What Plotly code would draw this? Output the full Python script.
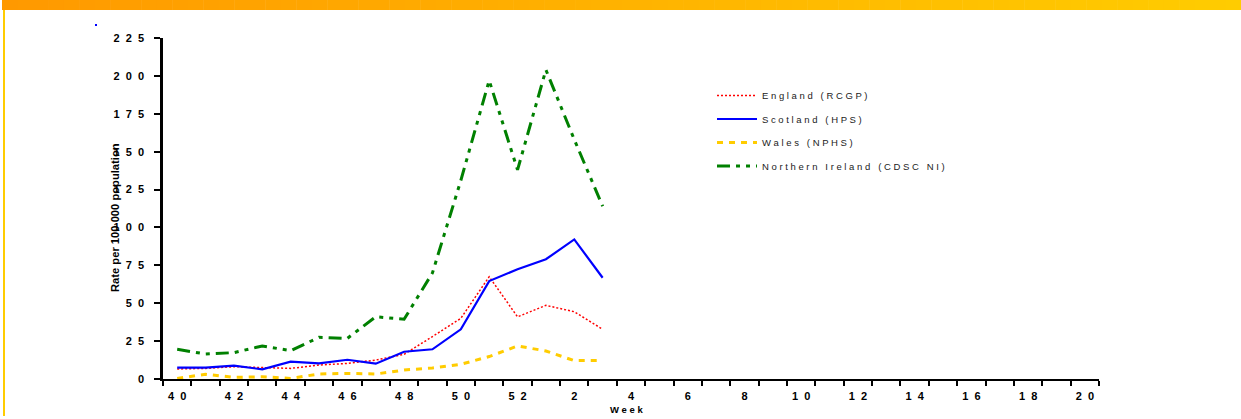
import plotly.graph_objects as go

# ---- data ----
all_weeks = [40, 41, 42, 43, 44, 45, 46, 47, 48, 49, 50, 51, 52,
             1, 2, 3, 4, 5, 6, 7, 8, 9, 10, 11, 12, 13, 14, 15, 16, 17, 18, 19, 20]
data_weeks = [40, 41, 42, 43, 44, 45, 46, 47, 48, 49, 50, 51, 52, 1, 2, 3]

england = [6.6, 7.0, 8.1, 7.5, 7.0, 9.2, 10.3, 12.5, 16.3, 28.0, 40.0, 67.5, 41.0, 48.6, 44.4, 32.8]
scotland = [7.5, 7.5, 8.8, 6.4, 11.4, 10.3, 12.7, 10.1, 18.0, 19.6, 32.8, 64.6, 72.4, 79.0, 92.1, 66.8]
wales = [0.4, 3.1, 1.1, 1.5, 0.4, 3.3, 3.7, 3.3, 5.9, 7.3, 9.7, 14.8, 21.8, 18.5, 12.1, 12.3]
n_ireland = [19.6, 16.5, 17.4, 21.8, 18.7, 27.5, 26.8, 41.1, 39.4, 70.0, 131.0, 197.0, 138.0, 204.0, 158.0, 114.0]

series_names = ["England (RCGP)", "Scotland (HPS)", "Wales (NPHS)", "Northern Ireland (CDSC NI)"]
y_ticks = [0, 25, 50, 75, 100, 125, 150, 175, 200, 225]
x_label_weeks = [40, 42, 44, 46, 48, 50, 52, 2, 4, 6, 8, 10, 12, 14, 16, 18, 20]

W, H = 1241, 419
L, R, T, B = 163, 142, 38, 40
PW, PH = W - L - R, H - T - B


def spaced(s, sep=" "):
    return sep.join(list(s))


def px_x(px):
    return (px - L) / PW


def px_y(py):
    return (H - B - py) / PH


FONT = "Liberation Sans, Arial, sans-serif"
NB = "\u00a0"

x_idx = [all_weeks.index(w) for w in data_weeks]

styles = [
    dict(color="#FF0000", width=1.5, dash="2px,2px"),
    dict(color="#0000FF", width=2.2, dash="solid"),
    dict(color="#FFCC00", width=3, dash="6px,6px"),
    dict(color="#008000", width=3, dash="13px,6px,4px,6px,4px,6px"),
]

fig = go.Figure()
for name, vals, st, grp in zip(series_names, [england, scotland, wales, n_ireland], styles, "abcd"):
    fig.add_trace(go.Scatter(
        x=x_idx, y=vals, mode="lines", name=spaced(name),
        line=st, legendgroup=grp,
    ))

# decorative frame: gradient bar on top, yellow rule on left
shapes = []
n_seg = 80
x0p, x1p = 2, W
c0 = (0xFF, 0x99, 0x00)
c1 = (0xFF, 0xCC, 0x00)
for i in range(n_seg):
    a = x0p + (x1p - x0p) * i / n_seg
    b = x0p + (x1p - x0p) * (i + 1) / n_seg + 0.5
    t = i / (n_seg - 1)
    col = "rgb(%d,%d,%d)" % tuple(round(c0[k] + (c1[k] - c0[k]) * t) for k in range(3))
    shapes.append(dict(type="rect", xref="paper", yref="paper",
                       x0=px_x(a), x1=px_x(b), y0=px_y(10), y1=px_y(0),
                       fillcolor=col, line=dict(width=0), layer="above"))
shapes.append(dict(type="line", xref="paper", yref="paper",
                   x0=px_x(4), x1=px_x(4), y0=px_y(10), y1=px_y(416),
                   line=dict(color="#FFCC00", width=2)))
shapes.append(dict(type="rect", xref="paper", yref="paper",
                   x0=px_x(95), x1=px_x(97), y0=px_y(26), y1=px_y(24),
                   fillcolor="#0000FF", line=dict(width=0)))

fig.update_layout(
    width=W, height=H,
    margin=dict(l=L, r=R, t=T, b=B, autoexpand=False),
    paper_bgcolor="white", plot_bgcolor="white",
    font=dict(family=FONT, color="black"),
    shapes=shapes,
    showlegend=True,
    legend=dict(
        x=px_x(712), y=px_y(81), xanchor="left", yanchor="top",
        bgcolor="rgba(0,0,0,0)", borderwidth=0,
        font=dict(family=FONT, size=9.5, color="#222222"),
        traceorder="grouped", tracegroupgap=4.5,
        itemwidth=40,
    ),
    xaxis=dict(
        range=[-0.5, len(all_weeks) - 0.5],
        showline=True, linecolor="black", linewidth=2,
        showgrid=False, zeroline=False,
        tickmode="array",
        tickvals=[all_weeks.index(w) for w in x_label_weeks],
        ticktext=[spaced(str(w), NB + " ") for w in x_label_weeks],
        ticks="",
        ticklabelstandoff=6,
        tickfont=dict(family=FONT, size=11, weight="bold"),
        minor=dict(tickmode="linear", tick0=-0.5, dtick=1, ticks="outside",
                   ticklen=5, tickwidth=1.5, tickcolor="black"),
        fixedrange=True,
    ),
    yaxis=dict(
        range=[0, 225],
        showline=True, linecolor="black", linewidth=2.5,
        showgrid=False, zeroline=False,
        tickmode="array", tickvals=y_ticks,
        ticktext=[spaced(str(v), NB + " ") for v in y_ticks],
        ticks="outside", ticklen=6, tickwidth=1.5, tickcolor="black",
        ticklabelstandoff=8,
        tickfont=dict(family=FONT, size=11, weight="bold"),
        fixedrange=True,
    ),
    annotations=[
        dict(text="Rate per 100 000 population", textangle=-90,
             xref="paper", yref="paper", x=px_x(115), y=px_y(218),
             xanchor="center", yanchor="middle", showarrow=False,
             font=dict(family=FONT, size=11.2, weight="bold")),
        dict(text=spaced("Week"), xref="paper", yref="paper",
             x=px_x(626), y=px_y(409), xanchor="center", yanchor="middle",
             showarrow=False, font=dict(family=FONT, size=9.5, weight="bold")),
    ],
)

fig.write_html("out.html", config={"displayModeBar": False},
               post_script="document.body.style.margin='0';")
